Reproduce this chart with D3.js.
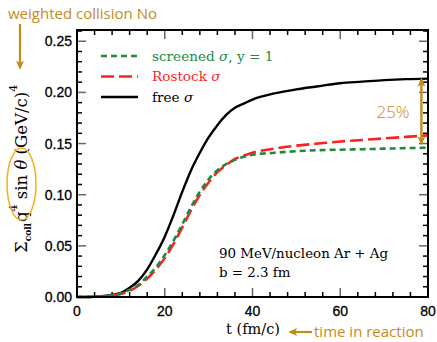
<!DOCTYPE html>
<html>
<head>
<meta charset="utf-8">
<script src="https://cdn.jsdelivr.net/npm/d3@7"></script>
<style>
  html, body { margin: 0; padding: 0; background: #fff; }
  svg { display: block; }
</style>
</head>
<body>
<svg id="chart" width="437" height="342"></svg>
<script>
// Time axis (fm/c)
const times = [0, 4, 8, 10, 12, 14, 16, 18, 20, 22, 24, 26, 28, 30, 32, 34, 36, 38, 40, 45, 50, 55, 60, 65, 70, 75, 80];
// Weighted collision number for each cross section
const freeSigma     = [0, 0.0003, 0.002, 0.004, 0.009, 0.016, 0.027, 0.042, 0.059, 0.080, 0.103, 0.124, 0.141, 0.156, 0.168, 0.178, 0.185, 0.189, 0.193, 0.199, 0.203, 0.206, 0.209, 0.2105, 0.212, 0.213, 0.2135];
const rostockSigma  = [0, 0.0002, 0.0015, 0.003, 0.006, 0.011, 0.018, 0.027, 0.038, 0.052, 0.068, 0.085, 0.100, 0.112, 0.122, 0.129, 0.135, 0.138, 0.141, 0.145, 0.148, 0.150, 0.152, 0.1535, 0.155, 0.1565, 0.158];
const screenedSigma = [0, 0.0002, 0.0016, 0.0035, 0.007, 0.012, 0.020, 0.029, 0.041, 0.055, 0.071, 0.088, 0.103, 0.115, 0.124, 0.130, 0.134, 0.137, 0.139, 0.141, 0.1425, 0.1435, 0.144, 0.1445, 0.145, 0.1455, 0.146];

const xTicks = [0, 20, 40, 60, 80];
const yTicks = [0, 0.05, 0.10, 0.15, 0.20, 0.25];
// Legend entries: plain text before the italic sigma, and text after it
const legendLabels = [["screened ", "σ", ", y = 1"], ["Rostock ", "σ", ""], ["free ", "σ", ""]];

const GOLD = "#c48b1c";
const GREEN = "#1d8a3e";
const RED = "#ff1f1f";

const svg = d3.select("#chart");
const L = 77, R = 428, T = 30, B = 297;

const x = d3.scaleLinear().domain([0, 80]).range([L, R]);
const y = d3.scaleLinear().domain([0, 0.261]).range([B, T]);

svg.append("defs").append("marker")
  .attr("id", "ah")
  .attr("viewBox", "0 0 10 10")
  .attr("refX", 8).attr("refY", 5)
  .attr("markerUnits", "userSpaceOnUse")
  .attr("markerWidth", 10).attr("markerHeight", 9)
  .attr("orient", "auto-start-reverse")
  .append("path").attr("d", "M0,0.5 L10,5 L0,9.5 L2.5,5 z").attr("fill", GOLD);

// Ticks on all four sides, pointing inward
const majorColor = "#666";
const xMinor = d3.range(0, 81, 4).filter(v => v % 20 !== 0);
const yMinor = d3.range(0, 0.2601, 0.01).filter(v => Math.round(v * 100) % 5 !== 0);

const axisG = svg.append("g");
function ticks(scale, vals, side, len, color) {
  vals.forEach(v => {
    const p = scale(v);
    let ln;
    if (side === "bottom") ln = axisG.append("line").attr("x1", p).attr("x2", p).attr("y1", B).attr("y2", B - len);
    if (side === "top") ln = axisG.append("line").attr("x1", p).attr("x2", p).attr("y1", T).attr("y2", T + len);
    if (side === "left") ln = axisG.append("line").attr("y1", p).attr("y2", p).attr("x1", L).attr("x2", L + len);
    if (side === "right") ln = axisG.append("line").attr("y1", p).attr("y2", p).attr("x1", R).attr("x2", R - len);
    ln.attr("stroke", color).attr("stroke-width", 1.5);
  });
}
ticks(x, xMinor, "bottom", 5, "#000");
ticks(x, xMinor, "top", 5, "#000");
ticks(y, yMinor, "left", 5, "#000");
ticks(y, yMinor, "right", 5, "#000");
ticks(x, xTicks.slice(1, -1), "bottom", 9, majorColor);
ticks(x, xTicks.slice(1, -1), "top", 9, majorColor);
ticks(y, yTicks.slice(1), "left", 9, majorColor);
ticks(y, yTicks.slice(1), "right", 9, majorColor);

// Curves
const pts = vals => times.map((t, i) => [t, vals[i]]);
const line = d3.line().x(d => x(d[0])).y(d => y(d[1])).curve(d3.curveMonotoneX);
const series = [
  { vals: freeSigma, color: "#000", dash: null, w: 2.4 },
  { vals: rostockSigma, color: RED, dash: "13,5", w: 2.6 },
  { vals: screenedSigma, color: GREEN, dash: "6,4", w: 2.6 }
];
svg.append("g").selectAll("path").data(series).enter().append("path")
  .attr("d", d => line(pts(d.vals)))
  .attr("fill", "none")
  .attr("stroke", d => d.color)
  .attr("stroke-width", d => d.w)
  .attr("stroke-dasharray", d => d.dash);

// Frame
svg.append("rect").attr("x", L).attr("y", T).attr("width", R - L).attr("height", B - T)
  .attr("fill", "none").attr("stroke", "#000").attr("stroke-width", 2);

// Tick labels
svg.append("g").selectAll("text").data(yTicks).enter().append("text")
  .attr("x", L - 5).attr("y", d => y(d) + 5)
  .attr("text-anchor", "end")
  .attr("font-family", "Liberation Sans, Arial, sans-serif").attr("font-size", 14)
  .attr("stroke", "#000").attr("stroke-width", 0.3)
  .text(d => d.toFixed(2));
svg.append("g").selectAll("text").data(xTicks).enter().append("text")
  .attr("x", d => x(d)).attr("y", B + 19)
  .attr("text-anchor", "middle")
  .attr("font-family", "Liberation Sans, Arial, sans-serif").attr("font-size", 14)
  .attr("stroke", "#000").attr("stroke-width", 0.3)
  .text(d => d);

// Legend
const legend = svg.append("g");
const legendSeries = [series[2], series[1], series[0]];
legendLabels.forEach((lab, i) => {
  const ly = 56 + i * 20.5;
  const s = legendSeries[i];
  legend.append("line").attr("x1", 101).attr("x2", 138).attr("y1", ly).attr("y2", ly)
    .attr("stroke", s.color).attr("stroke-width", s.w).attr("stroke-dasharray", s.dash);
  const t = legend.append("text").attr("x", 152).attr("y", ly + 4.5)
    .attr("font-family", "DejaVu Serif, serif").attr("font-size", 13.6)
    .attr("fill", s.color);
  t.append("tspan").text(lab[0]);
  t.append("tspan").attr("font-style", "italic").text(lab[1]);
  if (lab[2]) t.append("tspan").text(lab[2]);
});

// Reaction info
const info = svg.append("g").attr("font-family", "DejaVu Serif, serif").attr("font-size", 13.4);
info.append("text").attr("x", 219).attr("y", 258).text("90 MeV/nucleon Ar + Ag");
info.append("text").attr("x", 219).attr("y", 277).text("b = 2.3 fm");

// Axis titles
svg.append("text").attr("x", 253).attr("y", 334).attr("text-anchor", "middle")
  .attr("font-family", "DejaVu Serif, serif").attr("font-size", 14.5)
  .text("t  (fm/c)");

const yt = svg.append("text").attr("transform", "translate(27,253) rotate(-90)")
  .attr("font-family", "DejaVu Serif, serif").attr("font-size", 16.5);
yt.append("tspan").text("Σ");
yt.append("tspan").attr("font-size", 9).attr("font-weight", "bold").attr("dy", 4).text("coll");
yt.append("tspan").attr("dy", -4).attr("dx", 1).text("q");
yt.append("tspan").attr("font-size", 11).attr("dy", -10).text("4");
yt.append("tspan").attr("dy", 10).text(" sin ");
yt.append("tspan").attr("font-style", "italic").text("θ");
yt.append("tspan").text("  (GeV/c)");
yt.append("tspan").attr("font-size", 11).attr("dy", -10).text("4");

// Highlight around q⁴ sin θ
svg.append("ellipse").attr("cx", 21.5).attr("cy", 184).attr("rx", 14.5).attr("ry", 36)
  .attr("fill", "none").attr("stroke", "#f5b323").attr("stroke-width", 1.6);

// Annotations
const ann = svg.append("g").attr("font-family", "Open Sans, Noto Sans, sans-serif").attr("fill", GOLD);
ann.append("text").attr("x", 8).attr("y", 19).attr("font-size", 15).text("weighted collision No");
svg.append("line").attr("x1", 20).attr("x2", 20).attr("y1", 24).attr("y2", 68)
  .attr("stroke", GOLD).attr("stroke-width", 2.2).attr("marker-end", "url(#ah)");

ann.append("text").attr("x", 314).attr("y", 337).attr("font-size", 15).text("time in reaction");
svg.append("line").attr("x1", 312).attr("x2", 290).attr("y1", 332).attr("y2", 332)
  .attr("stroke", GOLD).attr("stroke-width", 2.2).attr("marker-end", "url(#ah)");

const arrowX = x(78.5);
const topY = y(freeSigma[freeSigma.length - 1]) + 1;
const botY = y(rostockSigma[rostockSigma.length - 1]) + 8;
svg.append("line").attr("x1", arrowX).attr("x2", arrowX).attr("y1", topY).attr("y2", botY)
  .attr("stroke", GOLD).attr("stroke-width", 2.4)
  .attr("marker-start", "url(#ah)").attr("marker-end", "url(#ah)");
ann.append("text").attr("x", 393).attr("y", 118).attr("text-anchor", "middle")
  .attr("font-size", 17).attr("font-weight", 300).text("25%");
</script>
</body>
</html>
